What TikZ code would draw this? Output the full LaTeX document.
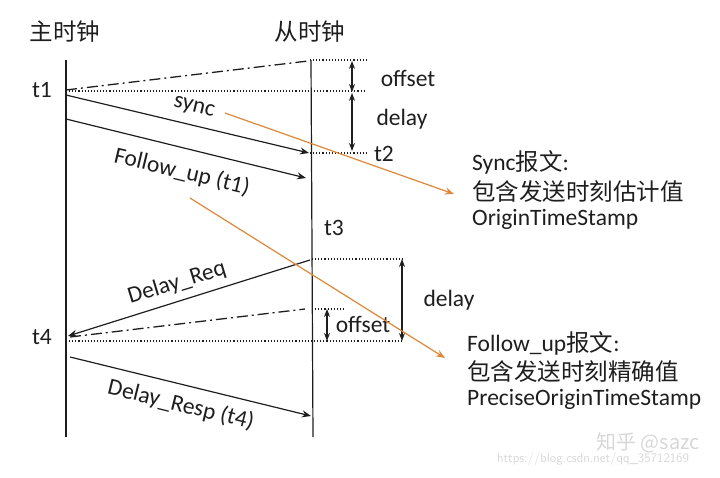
\documentclass[tikz,border=0pt]{standalone}
\usepackage{fontspec}
\setmainfont{Carlito}
\newfontfamily\cjk{Noto Sans CJK SC}
\usetikzlibrary{arrows.meta}
\definecolor{ink}{RGB}{30,30,30}
\definecolor{orng}{RGB}{222,135,55}
\definecolor{wm}{RGB}{215,215,215}
\tikzset{
  lbl/.style={font=\fontsize{23.5}{26}\selectfont, text=ink, inner sep=0pt},
  cjklbl/.style={font=\cjk\fontsize{23.5}{26}\selectfont, text=ink, inner sep=0pt},
  timeline/.style={draw=ink, line width=1.2pt},
  msg/.style={draw=ink, line width=1.2pt, -{Stealth[length=9pt,width=7pt]}},
  dashdot/.style={draw=ink, line width=1.3pt, dash pattern=on 11pt off 4pt on 2pt off 4pt},
  dots/.style={draw=ink, line width=1.1pt, dotted},
  dbl/.style={draw=ink, line width=1.2pt, {Stealth[length=8pt,width=6pt]}-{Stealth[length=8pt,width=6pt]}},
  pointer/.style={draw=orng, line width=1.2pt, -{Stealth[length=9pt,width=7pt]}},
}
\begin{document}
\begin{tikzpicture}[x=1pt,y=-1pt]
\useasboundingbox (0,0) rectangle (720,477);
% headings
\node[cjklbl] (master) at (65,32) {主时钟};
\node[cjklbl] (slave) at (310,32) {从时钟};
% timelines
\coordinate (mtop) at (66,60); \coordinate (mbot) at (66,437);
\coordinate (stop) at (311,60); \coordinate (sbot) at (313,437);
\draw[timeline] (mtop) -- (mbot);
\draw[timeline] (stop) -- (sbot);
% time labels
\node[lbl] (t1) at (42,90) {t1};
\node[lbl] (t2) at (384,154) {t2};
\node[lbl] (t3) at (334,228) {t3};
\node[lbl] (t4) at (42,337) {t4};
% top section
\coordinate (a1) at (66,91); \coordinate (a2) at (365,91);
\coordinate (b1) at (310,60); \coordinate (b2) at (366,60);
\coordinate (c1) at (310,153); \coordinate (c2) at (368,153);
\draw[dots] (a1) -- (a2);
\draw[dots] (b1) -- (b2);
\draw[dots] (c1) -- (c2);
\coordinate (dd1s) at (66,90); \coordinate (dd1e) at (308,61);
\draw[dashdot] (dd1s) -- (dd1e);
\coordinate (o1t) at (352,61); \coordinate (o1b) at (352,92);
\coordinate (d1t) at (352,93); \coordinate (d1b) at (352,151);
\draw[dbl] (o1t) -- (o1b);
\draw[dbl] (d1t) -- (d1b);
\node[lbl] (offset1) at (408,78) {offset};
\node[lbl] (delay1) at (402,119) {delay};
% sync / follow_up
\coordinate (s1) at (66,95); \coordinate (s2) at (309,153);
\draw[msg] (s1) -- (s2);
\node[lbl, rotate=-13.5] (synclbl) at (194,108) {sync};
\coordinate (f1) at (66,119); \coordinate (f2) at (306,178);
\draw[msg] (f1) -- (f2);
\node[lbl, rotate=-13.5] (fulbl) at (182,172) {Follow\_up (t1)};
% delay section
\coordinate (r1) at (310,260); \coordinate (r2) at (68,336);
\draw[msg] (r1) -- (r2);
\node[lbl, rotate=17] (reqlbl) at (177,283) {Delay\_Req};
\coordinate (e1) at (312,259); \coordinate (e2) at (403,259);
\coordinate (g1) at (312,309); \coordinate (g2) at (345,309);
\coordinate (h1) at (66,341); \coordinate (h2) at (403,341);
\draw[dots] (e1) -- (e2);
\draw[dots] (g1) -- (g2);
\draw[dots] (h1) -- (h2);
\coordinate (dd2s) at (70,337); \coordinate (dd2e) at (305,309);
\draw[dashdot] (dd2s) -- (dd2e);
\coordinate (o2t) at (327,309); \coordinate (o2b) at (327,341);
\draw[dbl] (o2t) -- (o2b);
\coordinate (d2t) at (402,259); \coordinate (d2b) at (402,341);
\draw[dbl] (d2t) -- (d2b);
\node[lbl] (offset2) at (363,324) {offset};
\node[lbl] (delay2) at (449,300) {delay};
\coordinate (p1) at (70,357); \coordinate (p2) at (311,416);
\draw[msg] (p1) -- (p2);
\node[lbl, rotate=-13.8] (resplbl) at (181,405) {Delay\_Resp (t4)};
% notes
\node[lbl, anchor=west] (n1a) at (472,162) {Sync{\cjk 报文}:};
\node[cjklbl, anchor=west] (n1b) at (472,192) {包含发送时刻估计值};
\node[lbl, anchor=west] (n1c) at (472,219) {OriginTimeStamp};
\node[lbl, anchor=west] (n2a) at (467,343) {Follow\_up{\cjk 报文}:};
\node[cjklbl, anchor=west] (n2b) at (467,372) {包含发送时刻精确值};
\node[lbl, anchor=west] (n2c) at (467,399) {PreciseOriginTimeStamp};
% pointers
\coordinate (q1) at (225,113); \coordinate (q2) at (454,194);
\draw[pointer] (q1) -- (q2);
\coordinate (u1) at (190,198); \coordinate (u2) at (445,358);
\draw[pointer] (u1) -- (u2);
% watermark
\node[font=\cjk\fontsize{20}{22}\selectfont, text=wm, inner sep=0pt] (wm1) at (648,443) {知乎 @sazc};
\node[font=\sffamily\fontsize{13}{15}\selectfont, text=wm, inner sep=0pt] (wm2) at (593,459) {https://blog.csdn.net/qq\_35712169};
\end{tikzpicture}
\end{document}
